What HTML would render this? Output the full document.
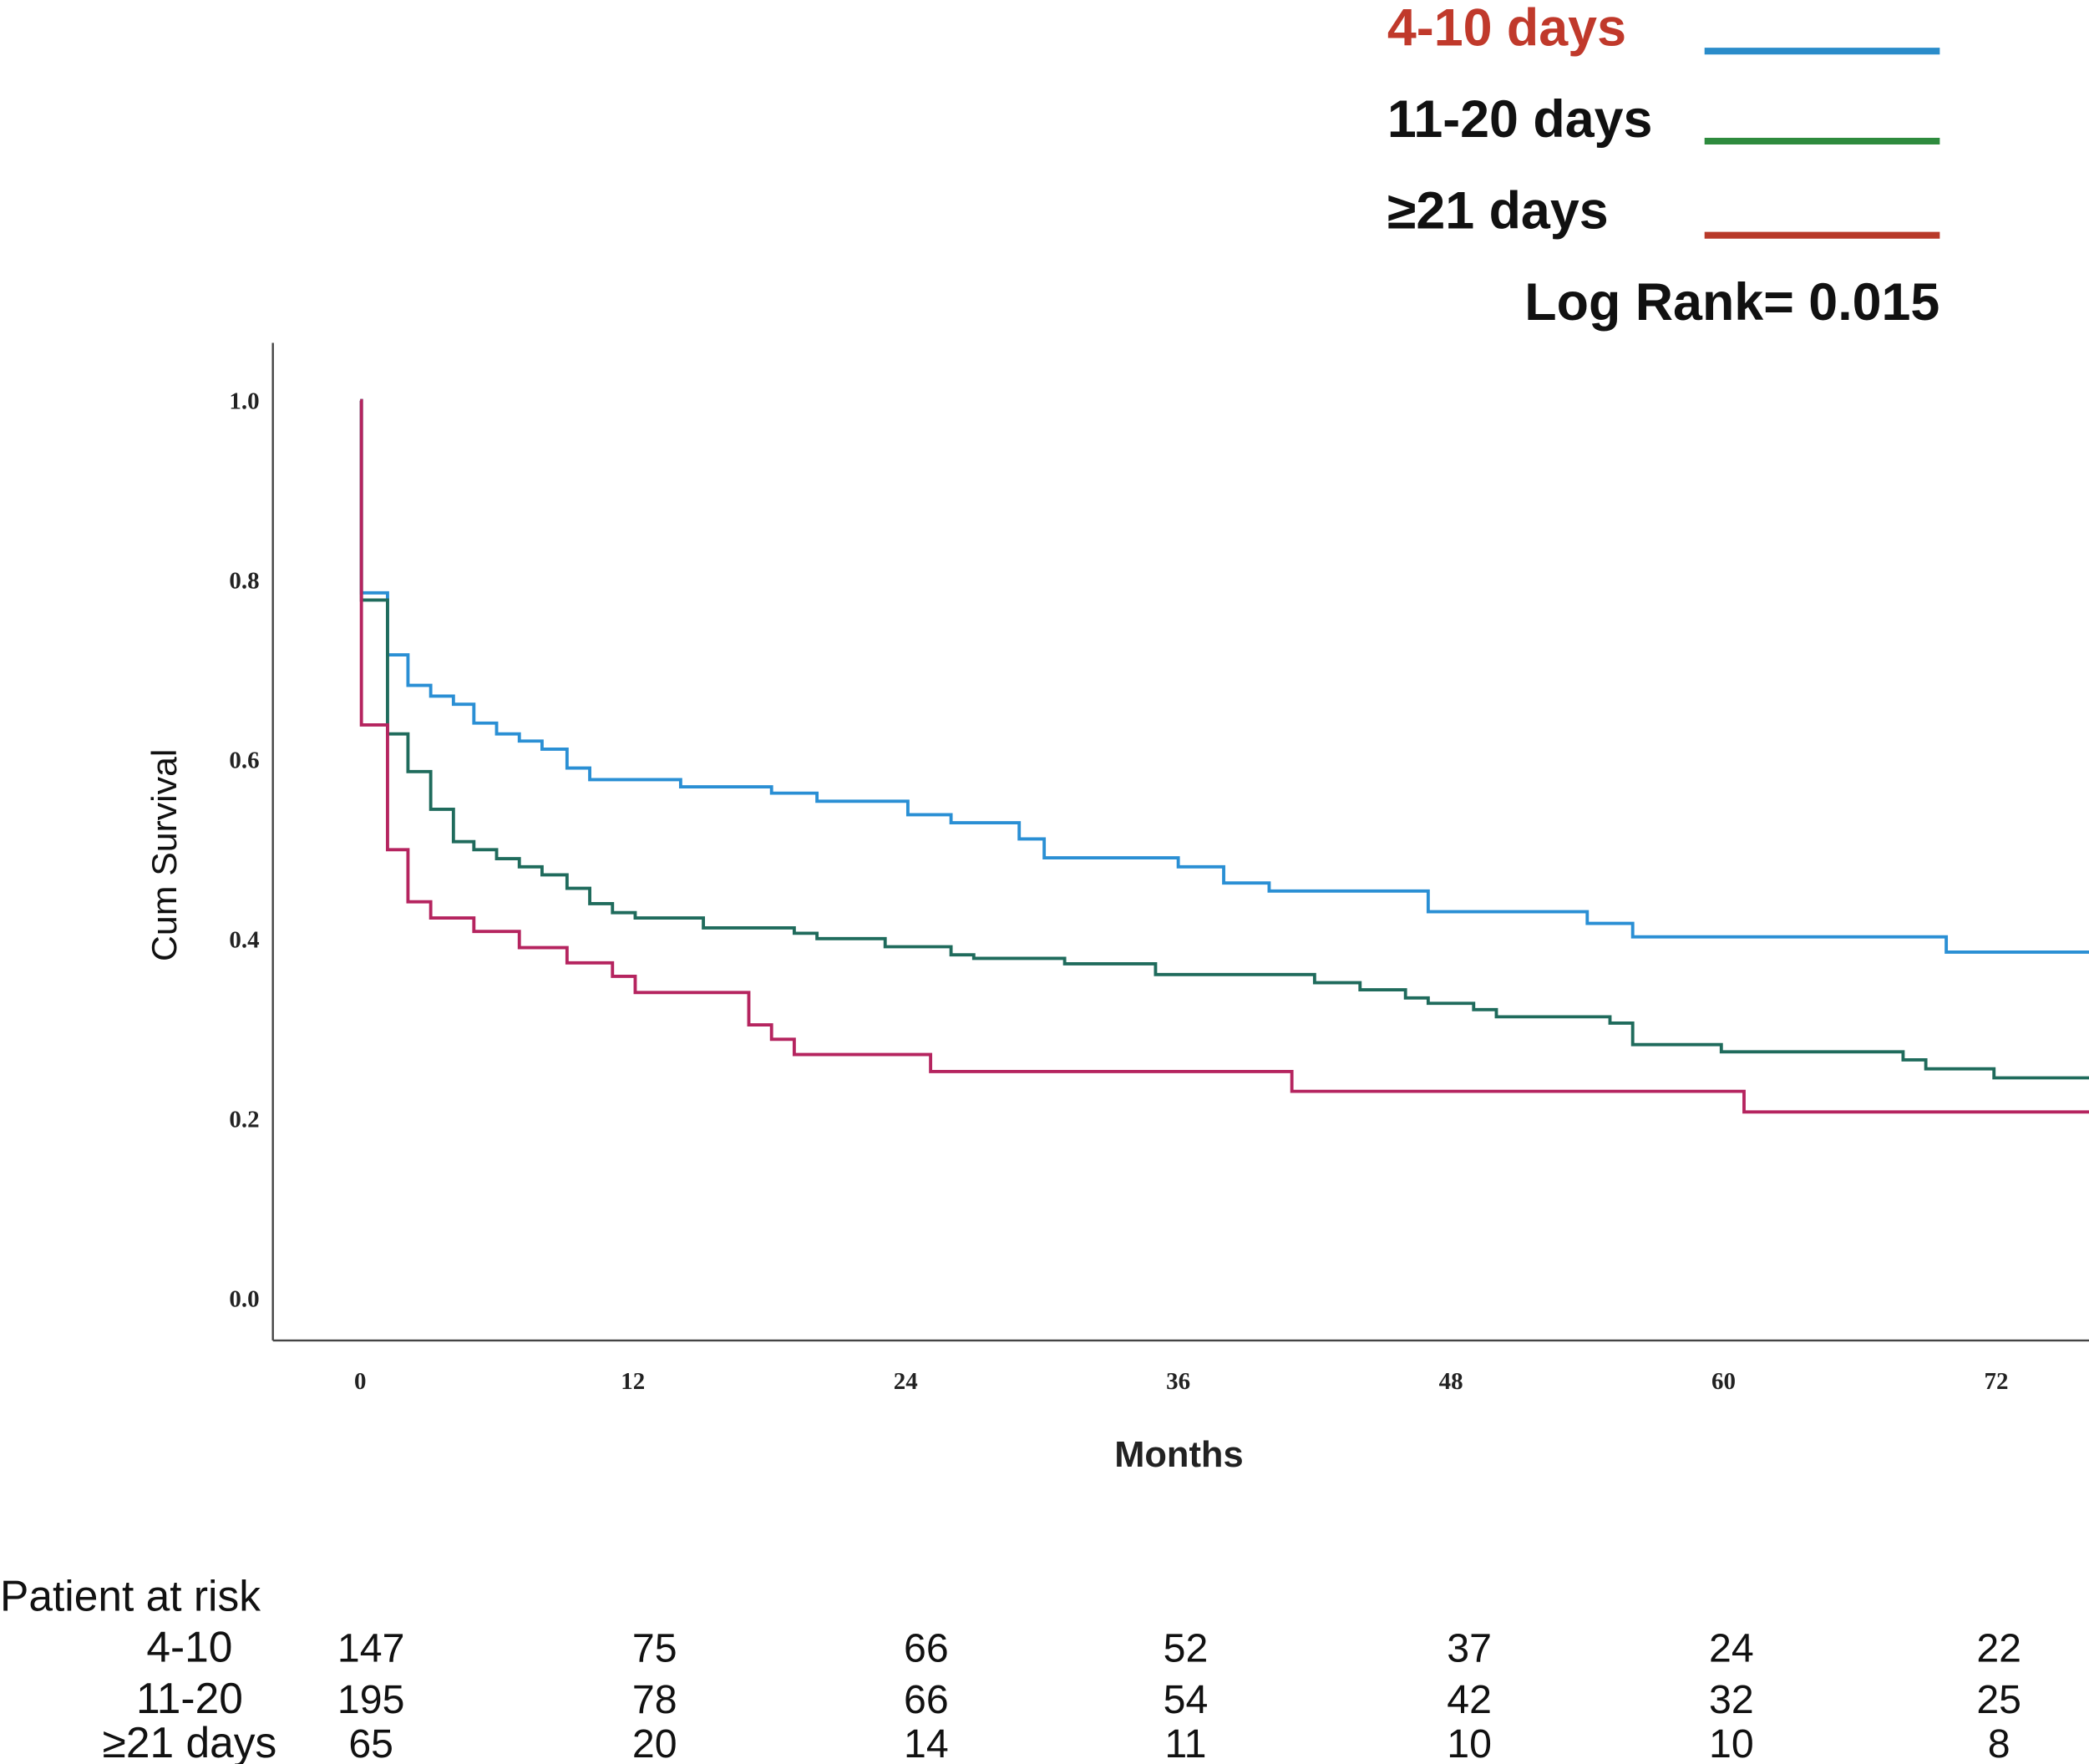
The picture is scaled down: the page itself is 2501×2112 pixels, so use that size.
<!DOCTYPE html>
<html><head><meta charset="utf-8">
<style>
html,body{margin:0;padding:0;background:#fff;}
svg{display:block;}
.sans{font-family:"Liberation Sans",sans-serif;}
.serif{font-family:"Liberation Serif",serif;font-weight:bold;}
</style></head>
<body>
<svg id="chart" width="2501" height="2112" viewBox="0 0 1554 1312" preserveAspectRatio="none" xmlns="http://www.w3.org/2000/svg">
<g id="legend" class="sans" font-weight="bold" font-size="39">
  <text x="1032" y="34" fill="#c0392b">4-10 days</text>
  <line x1="1268" x2="1443" y1="38" y2="38" stroke="#2a8cca" stroke-width="5"/>
  <text x="1032" y="102" fill="#111">11-20 days</text>
  <line x1="1268" x2="1443" y1="105" y2="105" stroke="#2e8b3e" stroke-width="5"/>
  <text x="1032" y="170" fill="#111">≥21 days</text>
  <line x1="1268" x2="1443" y1="175" y2="175" stroke="#b83a2a" stroke-width="5"/>
  <text x="1443" y="238" text-anchor="end" fill="#111">Log Rank= 0.015</text>
</g>
<line x1="203" y1="255" x2="203" y2="997" stroke="#444" stroke-width="1.5"/>
<line x1="203" y1="997" x2="1554" y2="997" stroke="#444" stroke-width="1.5"/>
<g id="yticks"></g><g id="xticks"></g>
<text class="sans" font-size="26" transform="translate(131,636) rotate(-90)" text-anchor="middle" fill="#111" textLength="158" lengthAdjust="spacingAndGlyphs">Cum Survival</text>
<text class="sans" font-size="27" font-weight="bold" x="877" y="1091" text-anchor="middle" fill="#222">Months</text>
<g id="curves"></g>
<g id="risk" class="sans" font-size="30" fill="#111"></g>
</svg>
<script>
const yTicks=[0.0,0.2,0.4,0.6,0.8,1.0];
const xTicks=[0,12,24,36,48,60,72];
const xMax=76.1;
const blueT=[0,0.05,1.2,2.1,3.1,4.1,5.0,6.0,7.0,8.0,9.1,10.1,14.1,18.1,20.1,24.1,26.0,29.0,30.1,36.0,38.0,40.0,47.0,54.0,56.0,69.8];
const blueV=[1.0,0.786,0.717,0.683,0.671,0.662,0.641,0.629,0.621,0.612,0.591,0.578,0.570,0.563,0.554,0.539,0.530,0.512,0.491,0.481,0.463,0.454,0.431,0.418,0.403,0.386];
const greenT=[0,0.05,1.2,2.1,3.1,4.1,5.0,6.0,7.0,8.0,9.1,10.1,11.1,12.1,15.1,19.1,20.1,23.1,26.0,27.0,31.0,35.0,42.0,44.0,46.0,47.0,49.0,50.0,55.0,56.0,59.9,67.9,68.9,71.9];
const greenV=[1.0,0.778,0.629,0.587,0.545,0.509,0.500,0.490,0.481,0.472,0.457,0.440,0.430,0.424,0.413,0.407,0.401,0.392,0.383,0.379,0.373,0.361,0.352,0.344,0.335,0.329,0.322,0.314,0.307,0.283,0.275,0.266,0.256,0.246];
const redT=[0,0.05,1.2,2.1,3.1,5.0,7.0,9.1,11.1,12.1,17.1,18.1,19.1,25.1,41.0,60.9];
const redV=[1.0,0.639,0.500,0.442,0.424,0.409,0.391,0.374,0.359,0.341,0.305,0.289,0.272,0.253,0.231,0.208];
const riskRows=["4-10","11-20","≥21 days"];
const risk410=[147,75,66,52,37,24,22];
const risk1120=[195,78,66,54,42,32,25];
const risk21=[65,20,14,11,10,10,8];
const riskCenters=[276,487,689,882,1093,1288,1487];

const NS="http://www.w3.org/2000/svg";
const xs=m=>268+m*(1485-268)/72;
const ys=v=>966-v*668;
function mk(tag,attrs,parent){const e=document.createElementNS(NS,tag);for(const k in attrs)e.setAttribute(k,attrs[k]);parent.appendChild(e);return e;}
const yg=document.getElementById('yticks');
yTicks.forEach(v=>{const t=mk('text',{x:193,y:ys(v)+6,'text-anchor':'end','font-size':18,class:'serif',fill:'#222'},yg);


t.textContent=v.toFixed(1);});
const xg=document.getElementById('xticks');
xTicks.forEach(m=>{const t=mk('text',{x:xs(m),y:1033,'text-anchor':'middle','font-size':18,class:'serif',fill:'#222'},xg);


t.textContent=m;});
const cg=document.getElementById('curves');
function curve(T,V,color,name){let d='M'+xs(T[0])+','+ys(V[0]);
for(let i=1;i<T.length;i++){d+=' H'+xs(T[i])+' V'+ys(V[i]);}
d+=' H'+xs(xMax);
const p=mk('path',{d:d,fill:'none',stroke:color,'stroke-width':2.4},cg);

}
curve(blueT,blueV,'#2a8fd4','curve-4-10-days');
curve(greenT,greenV,'#1f6b5c','curve-11-20-days');
curve(redT,redV,'#b5245f','curve-21-days');
const rg=document.getElementById('risk');
const h=mk('text',{x:0,y:1198,'font-size':32},rg);


h.textContent='Patient at risk';
const rows=[risk410,risk1120,risk21];
const rowY=[1236,1274,1307];
rows.forEach((row,ri)=>{const y=rowY[ri];
const l=mk('text',{x:141,y:y,'text-anchor':'middle','font-size':32},rg);


l.textContent=riskRows[ri];
row.forEach((n,ci)=>{const t=mk('text',{x:riskCenters[ci],y:y,'text-anchor':'middle'},rg);


t.textContent=n;});});
</script>
</body></html>
